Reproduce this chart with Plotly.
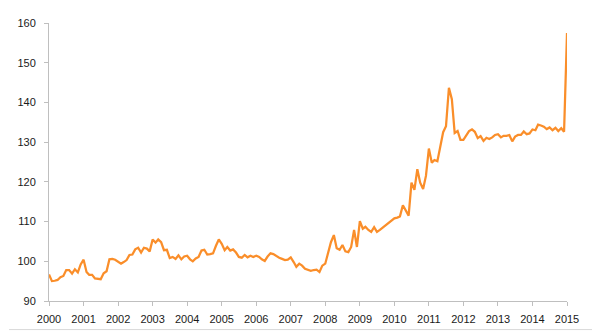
import plotly.graph_objects as go
import pandas as pd

# Monthly index values
v2000 = [96.7, 95.0, 95.1, 95.3, 96.0, 96.3, 97.8, 97.8, 96.9, 98.0, 97.2, 99.2]
v2001 = [100.4, 97.3, 96.6, 96.6, 95.7, 95.5, 95.5, 97.0, 97.5, 100.5, 100.6, 100.4]
v2002 = [99.9, 99.4, 99.8, 100.3, 101.6, 101.7, 103.0, 103.4, 102.2, 103.4, 103.2, 102.5]
v2003 = [105.5, 104.7, 105.5, 104.8, 102.8, 102.9, 100.8, 101.1, 100.6, 101.5, 100.5, 101.2]
v2004 = [101.4, 100.5, 100.0, 100.7, 101.1, 102.7, 102.9, 101.7, 101.8, 102.0, 103.9, 105.5]
v2005 = [104.4, 102.8, 103.6, 102.7, 103.0, 102.2, 101.1, 100.9, 101.6, 101.0, 101.4, 101.1]
v2006 = [101.4, 101.1, 100.5, 100.1, 101.2, 102.0, 101.8, 101.3, 100.9, 100.6, 100.3, 100.4]
v2007 = [101.0, 99.8, 98.6, 99.4, 98.9, 98.1, 97.8, 97.6, 97.8, 97.9, 97.3, 98.9]
v2008 = [99.4, 102.0, 104.8, 106.6, 103.3, 102.9, 104.1, 102.5, 102.3, 103.6, 107.9, 103.6]
v2009 = [110.1, 108.2, 108.7, 107.9, 107.4, 108.6, 107.4, 107.9, 108.5, 109.1, 109.5, 110.2]
v2010 = [110.8, 111.0, 111.3, 114.1, 112.7, 111.5, 119.8, 118.0, 123.2, 119.8, 118.2, 121.5]
v2011 = [128.4, 124.8, 125.5, 125.2, 128.8, 132.5, 134.0, 143.7, 140.8, 132.3, 132.8, 130.6]
v2012 = [130.6, 131.8, 132.8, 133.2, 132.6, 131.0, 131.5, 130.3, 131.1, 130.8, 131.2, 131.8]
v2013 = [132.0, 131.2, 131.6, 131.6, 131.8, 130.2, 131.4, 131.8, 131.8, 132.7, 132.0, 132.2]
v2014 = [133.2, 133.0, 134.4, 134.2, 133.9, 133.3, 133.7, 133.0, 133.6, 132.8, 133.5, 132.6]
v2015 = [157.5]

values = (v2000 + v2001 + v2002 + v2003 + v2004 + v2005 + v2006 + v2007 +
          v2008 + v2009 + v2010 + v2011 + v2012 + v2013 + v2014 + v2015)
dates = pd.date_range("2000-01-01", periods=len(values), freq="MS")

year_ticks = [f"{y}-01-01" for y in range(2000, 2016)]
year_labels = [str(y) for y in range(2000, 2016)]

fig = go.Figure()
fig.add_trace(go.Scatter(
    x=dates, y=values, mode="lines",
    line=dict(color="#fa8e2a", width=2.25),
    hoverinfo="skip", showlegend=False,
))

axis_col = "#bfbfbf"
font_col = "#1a1a1a"

# page has an 8px body offset; figure sized to the visible area
W, H = 592, 326
L, R, T, B = 40, 33, 9, 30
pw = W - L - R
ph = H - T - B

fig.update_layout(
    width=W, height=H,
    margin=dict(l=L, r=R, t=T, b=B, pad=0),
    paper_bgcolor="white", plot_bgcolor="white",
    font=dict(family="Liberation Sans, Arial, sans-serif", size=11, color=font_col),
    xaxis=dict(
        type="date",
        range=["2000-01-01", "2015-01-01"],
        tickvals=year_ticks, ticktext=year_labels,
        showgrid=False, zeroline=False,
        showline=True, linecolor=axis_col, linewidth=1,
        ticks="outside", ticklen=4, tickcolor=axis_col, tickwidth=1,
        tickfont=dict(size=11, color=font_col),
        ticklabelstandoff=4,
    ),
    yaxis=dict(
        range=[90, 160], dtick=10, tick0=90,
        showgrid=False, zeroline=False,
        showline=True, linecolor=axis_col, linewidth=1,
        ticks="outside", ticklen=4, tickcolor=axis_col, tickwidth=1,
        tickfont=dict(size=11, color=font_col),
        ticklabelstandoff=6,
    ),
    shapes=[
        dict(type="line", xref="paper", yref="paper",
             x0=1 + (R - 0.5) / pw, x1=1 + (R - 0.5) / pw,
             y0=-B / ph, y1=1 + T / ph,
             line=dict(color="#d9d9d9", width=1), layer="below"),
        dict(type="line", xref="paper", yref="paper",
             x0=-L / pw, x1=1 + R / pw,
             y0=-B / ph + 0.5 / ph, y1=-B / ph + 0.5 / ph,
             line=dict(color="#d9d9d9", width=1), layer="below"),
    ],
)

fig.write_html("out.html")
